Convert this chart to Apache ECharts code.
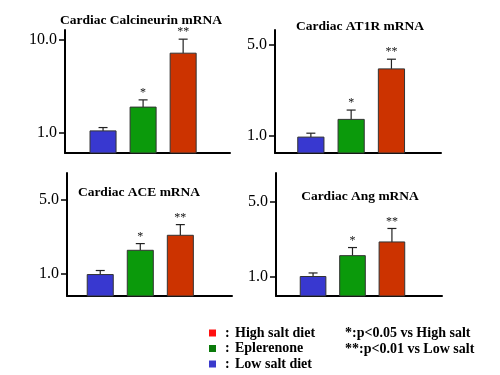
<!DOCTYPE html>
<html>
<head>
<meta charset="utf-8">
<script src="https://cdn.jsdelivr.net/npm/echarts@6/dist/echarts.min.js"></script>
<style>
  html, body { margin: 0; padding: 0; background: #fff; }
  #main { width: 500px; height: 375px; }
</style>
</head>
<body>
<div id="main"></div>
<script>
// groups, left to right in every panel
const groups = ['Low salt diet', 'Eplerenone', 'High salt diet'];
const titles = ['Cardiac Calcineurin mRNA', 'Cardiac AT1R mRNA', 'Cardiac ACE mRNA', 'Cardiac Ang mRNA'];

// mean values (relative mRNA)
const calcineurin = [1.04, 1.88, 7.19];
const at1r = [0.98, 1.34, 3.27];
const ace = [0.98, 1.66, 2.30];
const ang = [1.01, 1.58, 2.12];
// upper error (SE) per bar
const calcineurinErr = [0.09, 0.37, 3.0];
const at1rErr = [0.07, 0.24, 0.61];
const aceErr = [0.09, 0.26, 0.60];
const angErr = [0.08, 0.30, 0.71];

const stars = ['', '*', '**'];
const yTicks = [[1, 10], [1, 5], [1, 5], [1, 5]];

// legend (top to bottom) and the footnotes
const legendNames = ['High salt diet', 'Eplerenone', 'Low salt diet'];
const notes = ['*:p<0.05 vs High salt', '**:p<0.01 vs Low salt'];

const barColors = ['#3838d0', '#0b9a0b', '#cc3300'];
const legendColors = ['#ff1010', '#0a7a0a', '#3a3acc'];
const serif = "'Liberation Serif', 'DejaVu Serif', serif";

const values = [calcineurin, at1r, ace, ang];
const errors = [calcineurinErr, at1rErr, aceErr, angErr];

// layout of the four panels
const panels = [
  { grid: { left: 65, top: 30, width: 165, height: 123 }, x: [0.05, 4.17], y: [0.6, 12.8], title: [141, 21] },
  { grid: { left: 275, top: 30, width: 166, height: 123 }, x: [0.11, 4.23], y: [0.74, 6.5], title: [360, 27] },
  { grid: { left: 67, top: 173, width: 165, height: 123 }, x: [0.17, 4.29], y: [0.615, 8.9], title: [139, 193] },
  { grid: { left: 276, top: 173, width: 166, height: 123 }, x: [0.06, 4.27], y: [0.665, 9.3], title: [360, 197] },
];

const axisLine = { show: true, onZero: false, lineStyle: { color: '#000', width: 2 } };

function renderBar(params, api) {
  const pos = api.value(0);
  const mean = api.value(1);
  const top = api.value(2);
  const cs = params.coordSys;
  const bottom = cs.y + cs.height;
  const p = api.coord([pos, mean]);
  const e = api.coord([pos, top]);
  const half = api.size([0.65, 0])[0] / 2;
  const idx = params.dataIndex;
  return {
    type: 'group',
    children: [
      { type: 'line', shape: { x1: p[0], y1: p[1], x2: e[0], y2: e[1] }, style: { stroke: '#222', lineWidth: 1.2 } },
      { type: 'line', shape: { x1: e[0] - 4.5, y1: e[1], x2: e[0] + 4.5, y2: e[1] }, style: { stroke: '#222', lineWidth: 1.2 } },
      {
        type: 'rect',
        shape: { x: p[0] - half, y: p[1], width: half * 2, height: bottom - p[1] },
        style: { fill: barColors[idx], stroke: '#333', lineWidth: 1 },
      },
      {
        type: 'text',
        x: e[0], y: e[1] - 7,
        style: { text: stars[idx], font: '12px ' + serif, fill: '#111', align: 'center', verticalAlign: 'middle' },
      },
    ],
  };
}

const option = {
  animation: false,
  backgroundColor: '#fff',
  grid: panels.map((p) => p.grid),
  xAxis: panels.map((p, i) => ({
    type: 'value', gridIndex: i, min: p.x[0], max: p.x[1],
    axisLine: axisLine, axisTick: { show: false }, axisLabel: { show: false }, splitLine: { show: false },
  })),
  yAxis: panels.map((p, i) => ({
    type: 'log', gridIndex: i, min: p.y[0], max: p.y[1],
    axisLine: axisLine,
    axisTick: { show: true, length: 6, customValues: yTicks[i], lineStyle: { color: '#000', width: 1.5 } },
    axisLabel: {
      customValues: yTicks[i], margin: 8, color: '#000', fontFamily: serif, fontSize: 16,
      formatter: (v) => Number(v).toFixed(1),
    },
    splitLine: { show: false }, minorTick: { show: false },
  })),
  series: panels.map((p, i) => ({
    type: 'custom', xAxisIndex: i, yAxisIndex: i,
    renderItem: renderBar,
    data: values[i].map((v, j) => [j + 1, v, v + errors[i][j]]),
  })),
  graphic: [
    ...panels.map((p, i) => ({
      type: 'text', x: p.title[0], y: p.title[1],
      style: { text: titles[i], font: 'bold 13.5px ' + serif, fill: '#000', align: 'center', verticalAlign: 'middle' },
    })),
    ...legendNames.flatMap((name, i) => {
      const y = 333 + i * 15.5;
      return [
        { type: 'rect', shape: { x: 209, y: y - 3.5, width: 7, height: 7 }, style: { fill: legendColors[i] } },
        { type: 'text', x: 225, y: y, style: { text: ':', font: 'bold 14px ' + serif, fill: '#000', verticalAlign: 'middle' } },
        { type: 'text', x: 235, y: y, style: { text: name, font: 'bold 14px ' + serif, fill: '#000', verticalAlign: 'middle' } },
      ];
    }),
    ...notes.map((t, i) => ({
      type: 'text', x: 345, y: 333 + i * 16,
      style: { text: t, font: 'bold 14px ' + serif, fill: '#000', verticalAlign: 'middle' },
    })),
  ],
};

const chart = echarts.init(document.getElementById('main'), null, { renderer: 'canvas' });
chart.setOption(option);
</script>
</body>
</html>
